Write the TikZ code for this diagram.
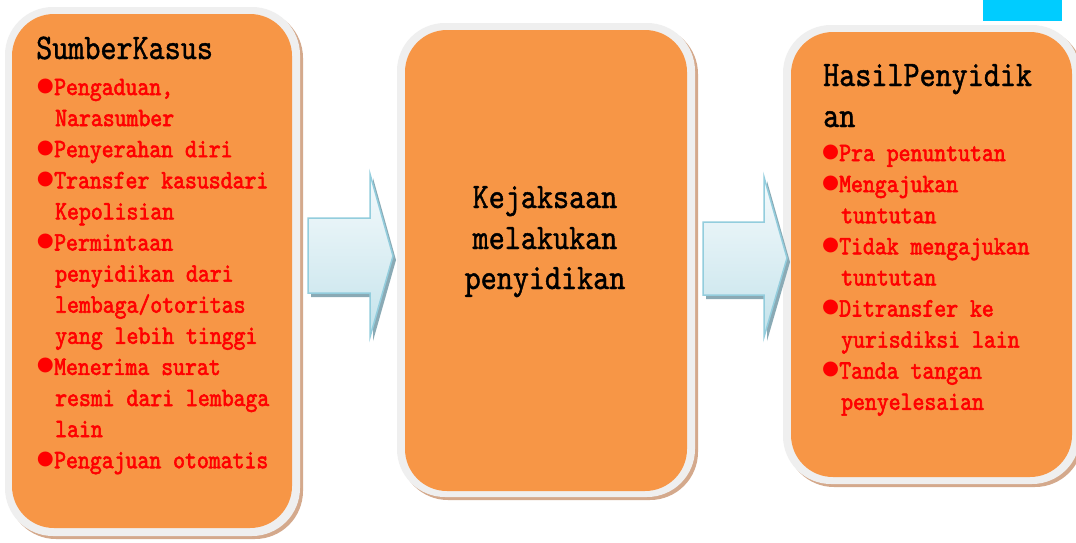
\documentclass[tikz,border=0pt]{standalone}
\usepackage{fontspec}
\usetikzlibrary{shadows}
\newfontfamily\monofnt[FakeStretch=0.85,FakeBold=1.2]{lmmono10-regular.otf}
\newfontfamily\monobold[FakeStretch=0.855,FakeBold=2.2]{lmmono10-regular.otf}
\newfontfamily\bulletfnt{DejaVu Sans}
\definecolor{boxorange}{HTML}{F79646}
\definecolor{boxrim}{HTML}{EFEFEF}
\definecolor{boxshadow}{HTML}{D4A98C}
\definecolor{arrowline}{HTML}{93CDDD}
\definecolor{arrowshadow}{HTML}{8AAAB5}
\definecolor{arrowtop}{HTML}{F5FAFC}
\definecolor{arrowbot}{HTML}{C4E3EB}
\definecolor{tabcyan}{HTML}{00CCFF}
\begin{document}
\begin{tikzpicture}[x=1pt,y=-1pt,
  rimbox/.style={fill=boxrim, rounded corners=48pt, inner sep=0pt,
    drop shadow={shadow xshift=3pt, shadow yshift=-3pt, fill=boxshadow, opacity=1}},
  orangebox/.style={fill=boxorange, rounded corners=42pt, inner sep=0pt},
  blockarrow/.style={draw=arrowline, line width=1.5pt, top color=arrowtop, bottom color=arrowbot,
    drop shadow={shadow xshift=3pt, shadow yshift=-4pt, fill=arrowshadow, opacity=1}},
  titletext/.style={anchor=base west, inner sep=0pt, font=\monofnt\fontsize{36}{40}\selectfont, text=black},
  midtext/.style={anchor=base, inner sep=0pt, font=\monofnt\fontsize{36}{40}\selectfont, text=black},
  itemtext/.style={anchor=base west, inner sep=0pt, font=\monobold\fontsize{26.5}{31}\selectfont, text=red},
  bulletmark/.style={anchor=center, inner sep=0pt, font=\bulletfnt\fontsize{19.5}{24}\selectfont, text=red}]
\useasboundingbox (0,0) rectangle (1076,542);
\clip (0,0) rectangle (1076,542);
\fill[white] (0,0) rectangle (1076,542);

% cyan tab
\node[fill=tabcyan, minimum width=79pt, minimum height=21pt, inner sep=0pt, anchor=north west] (tab) at (983,0) {};

% boxes
\node[rimbox, minimum width=295pt, minimum height=529pt] (srcrim) at (152.5,271.5) {};
\node[orangebox, minimum width=280pt, minimum height=514pt] (src) at (152,271) {};
\node[rimbox, minimum width=298pt, minimum height=474pt] (midrim) at (546,260) {};
\node[orangebox, minimum width=282pt, minimum height=461pt] (mid) at (546,260.5) {};
\node[rimbox, minimum width=297pt, minimum height=459pt] (resrim) at (931.5,254.5) {};
\node[orangebox, minimum width=281pt, minimum height=445pt] (res) at (931.5,254.5) {};

% block arrows
\path[blockarrow] (308,218) -- (370,218) -- (370,174) -- (393,256) -- (370,337) -- (370,293) -- (308,293) -- cycle;
\path[blockarrow] (703,222) -- (764,222) -- (764,177) -- (787,258) -- (764,337) -- (764,295) -- (703,295) -- cycle;

% box 1 text
\node[titletext] (srctitle) at (36,59) {SumberKasus};
\node[bulletmark] (sb0) at (45.5,86) {●};
\node[itemtext] (si0) at (54,95) {Pengaduan,};
\node[itemtext] (si1) at (55,126.1) {Narasumber};
\node[bulletmark] (sb2) at (45.5,148.2) {●};
\node[itemtext] (si2) at (54,157.2) {Penyerahan diri};
\node[bulletmark] (sb3) at (45.5,179.3) {●};
\node[itemtext] (si3) at (54,188.3) {Transfer kasusdari};
\node[itemtext] (si4) at (55,219.4) {Kepolisian};
\node[bulletmark] (sb5) at (45.5,241.5) {●};
\node[itemtext] (si5) at (54,250.5) {Permintaan};
\node[itemtext] (si6) at (55,281.6) {penyidikan dari};
\node[itemtext] (si7) at (55,312.7) {lembaga/otoritas};
\node[itemtext] (si8) at (55,343.8) {yang lebih tinggi};
\node[bulletmark] (sb9) at (45.5,365.9) {●};
\node[itemtext] (si9) at (54,374.9) {Menerima surat};
\node[itemtext] (si10) at (55,406) {resmi dari lembaga};
\node[itemtext] (si11) at (55,437.1) {lain};
\node[bulletmark] (sb12) at (45.5,459.2) {●};
\node[itemtext] (si12) at (54,468.2) {Pengajuan otomatis};

% box 2 text
\node[midtext] (mid0) at (545,208) {Kejaksaan};
\node[midtext] (mid1) at (545,249) {melakukan};
\node[midtext] (mid2) at (545,289) {penyidikan};

% box 3 text
\node[titletext] (restitle0) at (823,86) {HasilPenyidik};
\node[titletext] (restitle1) at (823,127) {an};
\node[bulletmark] (rb0) at (830.5,152) {●};
\node[itemtext] (ri0) at (839,161) {Pra penuntutan};
\node[bulletmark] (rb1) at (830.5,183.1) {●};
\node[itemtext] (ri1) at (839,192.1) {Mengajukan};
\node[itemtext] (ri2) at (841,223.2) {tuntutan};
\node[bulletmark] (rb3) at (830.5,245.3) {●};
\node[itemtext] (ri3) at (839,254.3) {Tidak mengajukan};
\node[itemtext] (ri4) at (841,285.4) {tuntutan};
\node[bulletmark] (rb5) at (830.5,307.5) {●};
\node[itemtext] (ri5) at (839,316.5) {Ditransfer ke};
\node[itemtext] (ri6) at (841,347.6) {yurisdiksi lain};
\node[bulletmark] (rb7) at (830.5,369.7) {●};
\node[itemtext] (ri7) at (839,378.7) {Tanda tangan};
\node[itemtext] (ri8) at (841,409.8) {penyelesaian};
\end{tikzpicture}
\end{document}
